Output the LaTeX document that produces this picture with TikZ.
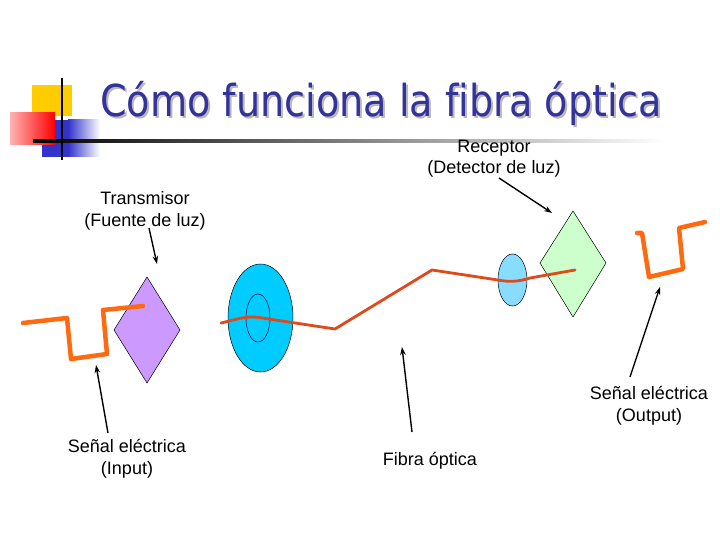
\documentclass[tikz,border=0pt]{standalone}
\usepackage{fontspec}
\setmainfont{Liberation Sans}
\newfontfamily\titlefont[Ligatures=NoCommon]{DejaVu Sans}
\usetikzlibrary{arrows.meta}
\definecolor{titleblue}{HTML}{333399}
\definecolor{sigorange}{HTML}{FF6A10}
\definecolor{fiberred}{HTML}{E04A1A}
\definecolor{cyanbig}{HTML}{00CCFF}
\definecolor{cyansmall}{HTML}{88DDFF}
\definecolor{lilac}{HTML}{CC99FF}
\definecolor{mint}{HTML}{CCFFCC}
\definecolor{decoyellow}{HTML}{FFCC00}
\definecolor{decoblue}{HTML}{3333CC}
\newcommand{\titletext}{\titlefont\fontsize{44}{50}\selectfont\scalebox{0.867}[1]{Cómo funciona la fibra óptica}}
\tikzset{
  lbl/.style={font=\fontsize{18}{21}\selectfont, inner sep=0pt, anchor=base},
  pointer/.style={draw=black, line width=1.4pt, -{Stealth[length=8pt,width=5.5pt]}},
  signal/.style={draw=sigorange, line width=4.5pt, line join=round, line cap=round},
  fiber/.style={draw=fiberred, line width=2.8pt, line join=round, line cap=round},
  outl/.style={draw=black, line width=0.5pt}
}
\begin{document}
\begin{tikzpicture}[x=1pt,y=-1pt]
\useasboundingbox (0,0) rectangle (720,540);
\fill[white] (0,0) rectangle (720,540);
% decoration
\fill[decoyellow] (32,85) rectangle (72,116);
\fill[decoblue] (42,120) rectangle (68,157);
\shade[left color=decoblue, right color=white] (68,120) rectangle (100,157);
\shade[left color=white!70!red, right color=red] (10,113) rectangle (55,145);
\shade[left color=black, right color=white] (33,139.6) rectangle (665,142.6);
\fill[black] (60.8,78) rectangle (63.4,160);
% title (with its shadow in the same text)
\node[anchor=base west, inner sep=0pt] (title) at (100,117)
  {\makebox[0pt][l]{\hspace{2pt}\raisebox{-2pt}{\color{gray!55}\titletext}}{\color{titleblue}\titletext}};
% shapes
\fill[lilac, outl] (147,277) -- (180,330) -- (147,383) -- (114,330) -- cycle;
\fill[cyanbig, outl] (260.5,318) ellipse [x radius=32.5, y radius=54];
\draw[outl, draw=black!80!blue] (258,318) ellipse [x radius=12, y radius=24];
\fill[cyansmall, outl] (512.5,280) ellipse [x radius=14.5, y radius=26];
\fill[mint, outl] (573,211) -- (606,263) -- (573,317) -- (540,263) -- cycle;
% signals
\draw[signal] (23,323) -- (67,318) -- (71,359) -- (107,354) -- (103,310) -- (143,306);
\draw[signal] (637,233) -- (642,233) -- (649,277) -- (683,269) -- (679,228) -- (705,222);
\draw[fiber] (221,323) .. controls (238,319) and (248,315) .. (262,318) -- (335,329) -- (432,270) -- (498,280)
  .. controls (508,282) and (518,282) .. (530,278) -- (575,270);
% labels
\node[lbl] (rec1) at (494,153) {Receptor};
\node[lbl] (rec2) at (494,174) {(Detector de luz)};
\node[lbl] (tx1) at (145,205) {Transmisor};
\node[lbl] (tx2) at (145,226) {(Fuente de luz)};
\node[lbl] (in1) at (127,452) {Señal eléctrica};
\node[lbl] (in2) at (127,474) {(Input)};
\node[lbl] (fib) at (430,465) {Fibra óptica};
\node[lbl] (out1) at (649,399) {Señal eléctrica};
\node[lbl] (out2) at (649,421) {(Output)};
% pointer coordinates
\coordinate (recS) at (499,178);
\coordinate (recE) at (552,213);
\coordinate (txS) at (149,228);
\coordinate (txE) at (157,264);
\coordinate (inS) at (108,433);
\coordinate (inE) at (96,365);
\coordinate (fibS) at (412,432);
\coordinate (fibE) at (402,347);
\coordinate (outS) at (630,377);
\coordinate (outE) at (660,287);
\draw[pointer] (recS) -- (recE);
\draw[pointer] (txS) -- (txE);
\draw[pointer] (inS) -- (inE);
\draw[pointer] (fibS) -- (fibE);
\draw[pointer] (outS) -- (outE);
\end{tikzpicture}
\end{document}
